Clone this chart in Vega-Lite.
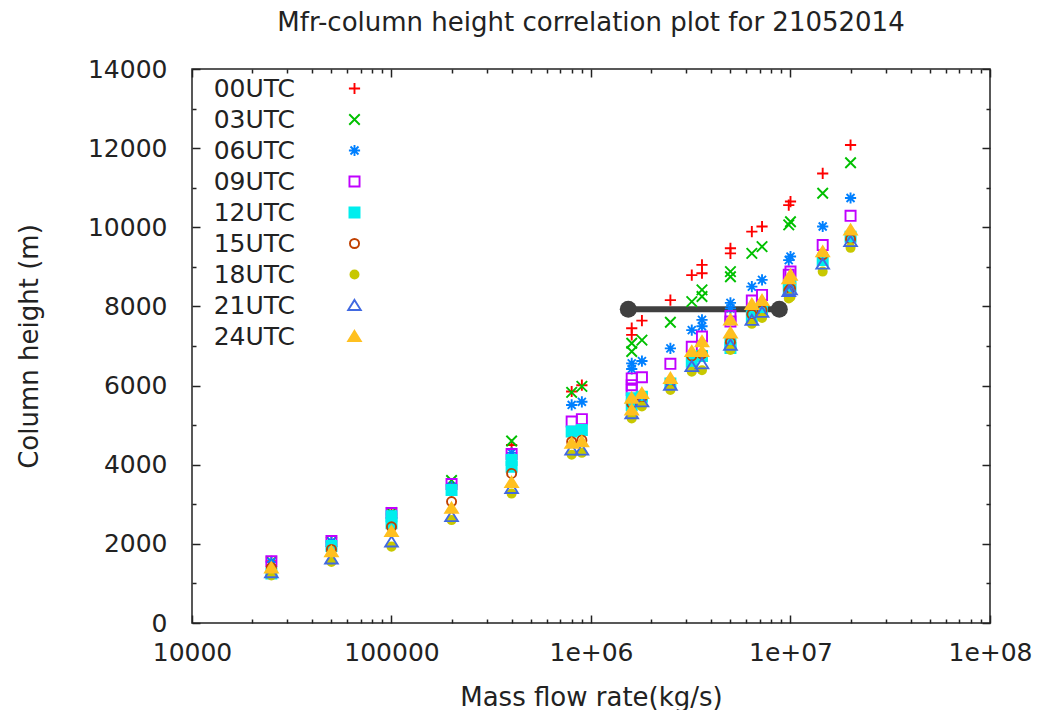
{
 "$schema": "https://vega.github.io/schema/vega-lite/v6.json",
 "width": 798, "height": 554,
 "autosize": {"type": "none"},
 "padding": {"left": 192, "top": 69, "right": 47, "bottom": 87},
 "background": "white",
 "title": {"text": "Mfr-column height correlation plot for 21052014", "fontSize": 26, "font": "DejaVu Sans", "fontWeight": "normal", "color": "#222", "offset": 21, "anchor": "middle"},
 "config": {
  "view": {"stroke": "#222", "strokeWidth": 1.5},
  "axis": {"domain": false, "grid": false, "labelFlush": false, "labelFont": "DejaVu Sans", "labelFontSize": 25, "labelColor": "#222", "titleFont": "DejaVu Sans", "titleFontSize": 26, "titleFontWeight": "normal", "titleColor": "#222", "tickColor": "#222", "tickWidth": 1.5}
 },
 "datasets": {
  "bar": [{"mfr": 1538000, "height": 7930}, {"mfr": 8790000, "height": 7930}],
  "pts": [
{"series":"00UTC","mfr":25000,"height":1560},{"series":"00UTC","mfr":50000,"height":2060},{"series":"00UTC","mfr":100000,"height":2760},{"series":"00UTC","mfr":200000,"height":3500},{"series":"00UTC","mfr":400000,"height":4500},{"series":"00UTC","mfr":800000,"height":5850},{"series":"00UTC","mfr":900000,"height":6010},{"series":"00UTC","mfr":1600000,"height":7450},{"series":"00UTC","mfr":1600000,"height":7280},{"series":"00UTC","mfr":1800000,"height":7640},{"series":"00UTC","mfr":2500000,"height":8160},{"series":"00UTC","mfr":3200000,"height":8790},{"series":"00UTC","mfr":3600000,"height":9050},{"series":"00UTC","mfr":3600000,"height":8840},{"series":"00UTC","mfr":5000000,"height":9470},{"series":"00UTC","mfr":5000000,"height":9340},{"series":"00UTC","mfr":6400000,"height":9890},{"series":"00UTC","mfr":7200000,"height":10020},{"series":"00UTC","mfr":9800000,"height":10560},{"series":"00UTC","mfr":10000000,"height":10650},{"series":"00UTC","mfr":14500000,"height":11360},{"series":"00UTC","mfr":20000000,"height":12080},
{"series":"03UTC","mfr":25000,"height":1550},{"series":"03UTC","mfr":50000,"height":2050},{"series":"03UTC","mfr":100000,"height":2790},{"series":"03UTC","mfr":200000,"height":3600},{"series":"03UTC","mfr":400000,"height":4600},{"series":"03UTC","mfr":800000,"height":5830},{"series":"03UTC","mfr":900000,"height":5980},{"series":"03UTC","mfr":1600000,"height":7070},{"series":"03UTC","mfr":1600000,"height":6860},{"series":"03UTC","mfr":1800000,"height":7150},{"series":"03UTC","mfr":2500000,"height":7600},{"series":"03UTC","mfr":3200000,"height":8120},{"series":"03UTC","mfr":3600000,"height":8420},{"series":"03UTC","mfr":3600000,"height":8250},{"series":"03UTC","mfr":5000000,"height":8880},{"series":"03UTC","mfr":5000000,"height":8750},{"series":"03UTC","mfr":6400000,"height":9340},{"series":"03UTC","mfr":7200000,"height":9510},{"series":"03UTC","mfr":9800000,"height":10060},{"series":"03UTC","mfr":10000000,"height":10140},{"series":"03UTC","mfr":14500000,"height":10860},{"series":"03UTC","mfr":20000000,"height":11630},
{"series":"06UTC","mfr":25000,"height":1540},{"series":"06UTC","mfr":50000,"height":2055},{"series":"06UTC","mfr":100000,"height":2720},{"series":"06UTC","mfr":200000,"height":3450},{"series":"06UTC","mfr":400000,"height":4300},{"series":"06UTC","mfr":800000,"height":5510},{"series":"06UTC","mfr":900000,"height":5590},{"series":"06UTC","mfr":1600000,"height":6560},{"series":"06UTC","mfr":1600000,"height":6420},{"series":"06UTC","mfr":1800000,"height":6620},{"series":"06UTC","mfr":2500000,"height":6940},{"series":"06UTC","mfr":3200000,"height":7400},{"series":"06UTC","mfr":3600000,"height":7660},{"series":"06UTC","mfr":3600000,"height":7500},{"series":"06UTC","mfr":5000000,"height":8090},{"series":"06UTC","mfr":5000000,"height":7950},{"series":"06UTC","mfr":6400000,"height":8500},{"series":"06UTC","mfr":7200000,"height":8670},{"series":"06UTC","mfr":9800000,"height":9170},{"series":"06UTC","mfr":10000000,"height":9260},{"series":"06UTC","mfr":14500000,"height":10020},{"series":"06UTC","mfr":20000000,"height":10740},
{"series":"09UTC","mfr":25000,"height":1560},{"series":"09UTC","mfr":50000,"height":2072},{"series":"09UTC","mfr":100000,"height":2780},{"series":"09UTC","mfr":200000,"height":3510},{"series":"09UTC","mfr":400000,"height":4270},{"series":"09UTC","mfr":800000,"height":5090},{"series":"09UTC","mfr":900000,"height":5150},{"series":"09UTC","mfr":1600000,"height":6180},{"series":"09UTC","mfr":1600000,"height":6010},{"series":"09UTC","mfr":1600000,"height":5890},{"series":"09UTC","mfr":1800000,"height":6210},{"series":"09UTC","mfr":2500000,"height":6550},{"series":"09UTC","mfr":3200000,"height":6980},{"series":"09UTC","mfr":3600000,"height":7240},{"series":"09UTC","mfr":5000000,"height":7760},{"series":"09UTC","mfr":5000000,"height":7620},{"series":"09UTC","mfr":6400000,"height":8150},{"series":"09UTC","mfr":7200000,"height":8290},{"series":"09UTC","mfr":9800000,"height":8800},{"series":"09UTC","mfr":10000000,"height":8880},{"series":"09UTC","mfr":14500000,"height":9550},{"series":"09UTC","mfr":20000000,"height":10290},
{"series":"12UTC","mfr":25000,"height":1250},{"series":"12UTC","mfr":50000,"height":1946},{"series":"12UTC","mfr":100000,"height":2700},{"series":"12UTC","mfr":100000,"height":2520},{"series":"12UTC","mfr":200000,"height":3360},{"series":"12UTC","mfr":400000,"height":4120},{"series":"12UTC","mfr":400000,"height":3950},{"series":"12UTC","mfr":800000,"height":4840},{"series":"12UTC","mfr":900000,"height":4880},{"series":"12UTC","mfr":1600000,"height":5680},{"series":"12UTC","mfr":1600000,"height":5500},{"series":"12UTC","mfr":1800000,"height":5720},{"series":"12UTC","mfr":2500000,"height":6050},{"series":"12UTC","mfr":3200000,"height":6600},{"series":"12UTC","mfr":3600000,"height":6750},{"series":"12UTC","mfr":5000000,"height":7080},{"series":"12UTC","mfr":5000000,"height":6950},{"series":"12UTC","mfr":6400000,"height":7750},{"series":"12UTC","mfr":7200000,"height":7950},{"series":"12UTC","mfr":9800000,"height":8450},{"series":"12UTC","mfr":10000000,"height":8520},{"series":"12UTC","mfr":14500000,"height":9170},{"series":"12UTC","mfr":20000000,"height":9760},
{"series":"15UTC","mfr":25000,"height":1400},{"series":"15UTC","mfr":50000,"height":1860},{"series":"15UTC","mfr":100000,"height":2430},{"series":"15UTC","mfr":200000,"height":3070},{"series":"15UTC","mfr":400000,"height":3780},{"series":"15UTC","mfr":800000,"height":4580},{"series":"15UTC","mfr":900000,"height":4620},{"series":"15UTC","mfr":1600000,"height":5550},{"series":"15UTC","mfr":1800000,"height":5700},{"series":"15UTC","mfr":2500000,"height":6100},{"series":"15UTC","mfr":3200000,"height":6750},{"series":"15UTC","mfr":3600000,"height":6800},{"series":"15UTC","mfr":5000000,"height":7100},{"series":"15UTC","mfr":6400000,"height":7800},{"series":"15UTC","mfr":7200000,"height":7900},{"series":"15UTC","mfr":9800000,"height":8400},{"series":"15UTC","mfr":10000000,"height":8450},{"series":"15UTC","mfr":14500000,"height":9300},{"series":"15UTC","mfr":20000000,"height":9700},
{"series":"18UTC","mfr":25000,"height":1200},{"series":"18UTC","mfr":50000,"height":1540},{"series":"18UTC","mfr":100000,"height":1930},{"series":"18UTC","mfr":200000,"height":2600},{"series":"18UTC","mfr":400000,"height":3270},{"series":"18UTC","mfr":800000,"height":4250},{"series":"18UTC","mfr":900000,"height":4300},{"series":"18UTC","mfr":1600000,"height":5170},{"series":"18UTC","mfr":1800000,"height":5470},{"series":"18UTC","mfr":2500000,"height":5890},{"series":"18UTC","mfr":3200000,"height":6350},{"series":"18UTC","mfr":3600000,"height":6390},{"series":"18UTC","mfr":5000000,"height":6900},{"series":"18UTC","mfr":6400000,"height":7560},{"series":"18UTC","mfr":7200000,"height":7710},{"series":"18UTC","mfr":9800000,"height":8200},{"series":"18UTC","mfr":10000000,"height":8240},{"series":"18UTC","mfr":14500000,"height":8880},{"series":"18UTC","mfr":20000000,"height":9480},
{"series":"21UTC","mfr":25000,"height":1270},{"series":"21UTC","mfr":50000,"height":1617},{"series":"21UTC","mfr":100000,"height":2050},{"series":"21UTC","mfr":200000,"height":2690},{"series":"21UTC","mfr":400000,"height":3400},{"series":"21UTC","mfr":800000,"height":4370},{"series":"21UTC","mfr":900000,"height":4370},{"series":"21UTC","mfr":1600000,"height":5290},{"series":"21UTC","mfr":1800000,"height":5590},{"series":"21UTC","mfr":2500000,"height":6010},{"series":"21UTC","mfr":3200000,"height":6480},{"series":"21UTC","mfr":3600000,"height":6550},{"series":"21UTC","mfr":5000000,"height":7020},{"series":"21UTC","mfr":6400000,"height":7650},{"series":"21UTC","mfr":7200000,"height":7850},{"series":"21UTC","mfr":9800000,"height":8380},{"series":"21UTC","mfr":10000000,"height":8420},{"series":"21UTC","mfr":14500000,"height":9070},{"series":"21UTC","mfr":20000000,"height":9640},
{"series":"24UTC","mfr":25000,"height":1390},{"series":"24UTC","mfr":50000,"height":1800},{"series":"24UTC","mfr":100000,"height":2310},{"series":"24UTC","mfr":200000,"height":2900},{"series":"24UTC","mfr":400000,"height":3550},{"series":"24UTC","mfr":800000,"height":4540},{"series":"24UTC","mfr":900000,"height":4580},{"series":"24UTC","mfr":1600000,"height":5680},{"series":"24UTC","mfr":1600000,"height":5380},{"series":"24UTC","mfr":1800000,"height":5800},{"series":"24UTC","mfr":2500000,"height":6180},{"series":"24UTC","mfr":3200000,"height":6860},{"series":"24UTC","mfr":3600000,"height":7110},{"series":"24UTC","mfr":3600000,"height":6860},{"series":"24UTC","mfr":5000000,"height":7660},{"series":"24UTC","mfr":5000000,"height":7330},{"series":"24UTC","mfr":6400000,"height":8050},{"series":"24UTC","mfr":7200000,"height":8150},{"series":"24UTC","mfr":9800000,"height":8700},{"series":"24UTC","mfr":10000000,"height":8790},{"series":"24UTC","mfr":14500000,"height":9380},{"series":"24UTC","mfr":20000000,"height":9930}
  ]
 },
 "layer": [
  {
   "data": {"name": "bar"},
   "mark": {"type": "line", "color": "#404040", "strokeWidth": 6, "point": {"filled": true, "size": 289, "color": "#404040", "opacity": 1}},
   "encoding": {
    "x": {"field": "mfr", "type": "quantitative", "scale": {"type": "log", "domain": [10000, 100000000], "nice": false}, "axis": {"orient": "top", "offset": -8, "tickSize": 8, "labels": false, "title": null, "values": [10000, 100000, 1000000, 10000000, 100000000]}},
    "y": {"field": "height", "type": "quantitative", "scale": {"domain": [0, 14000], "nice": false}, "axis": {"orient": "right", "offset": -8, "tickSize": 8, "labels": false, "title": null, "values": [0, 2000, 4000, 6000, 8000, 10000, 12000, 14000]}}
   }
  },
  {
   "data": {"name": "bar"},
   "mark": {"type": "point", "opacity": 0},
   "encoding": {
    "x": {"field": "mfr", "type": "quantitative", "scale": {"type": "log", "domain": [10000, 100000000], "nice": false}, "axis": {"orient": "bottom", "offset": -4, "tickSize": 4, "labels": false, "title": null, "values": [20000,30000,40000,50000,60000,70000,80000,90000,200000,300000,400000,500000,600000,700000,800000,900000,2000000,3000000,4000000,5000000,6000000,7000000,8000000,9000000,20000000,30000000,40000000,50000000,60000000,70000000,80000000,90000000]}},
    "y": {"field": "height", "type": "quantitative", "scale": {"domain": [0, 14000], "nice": false}, "axis": {"orient": "left", "offset": -4, "tickSize": 4, "labels": false, "title": null, "values": [1000,3000,5000,7000,9000,11000,13000]}}
   }
  },
  {
   "data": {"name": "bar"},
   "mark": {"type": "point", "opacity": 0},
   "encoding": {
    "x": {"field": "mfr", "type": "quantitative", "scale": {"type": "log", "domain": [10000, 100000000], "nice": false}, "axis": {"orient": "top", "offset": -4, "tickSize": 4, "labels": false, "title": null, "values": [20000,30000,40000,50000,60000,70000,80000,90000,200000,300000,400000,500000,600000,700000,800000,900000,2000000,3000000,4000000,5000000,6000000,7000000,8000000,9000000,20000000,30000000,40000000,50000000,60000000,70000000,80000000,90000000]}},
    "y": {"field": "height", "type": "quantitative", "scale": {"domain": [0, 14000], "nice": false}, "axis": {"orient": "right", "offset": -4, "tickSize": 4, "labels": false, "title": null, "values": [1000,3000,5000,7000,9000,11000,13000]}}
   }
  },
  {
   "data": {"name": "pts"},
   "mark": {"type": "point", "strokeWidth": 1.9, "size": 196, "opacity": 1},
   "encoding": {
    "x": {"field": "mfr", "type": "quantitative", "scale": {"type": "log", "domain": [10000, 100000000], "nice": false}, "axis": {"orient": "bottom", "offset": -8, "tickSize": 8, "labelPadding": 17, "title": "Mass flow rate(kg/s)", "titlePadding": 19, "values": [10000, 100000, 1000000, 10000000, 100000000], "labelExpr": "datum.value < 1000000 ? format(datum.value, 'd') : '1e+0' + format(log(datum.value)/LN10, '.0f')"}},
    "y": {"field": "height", "type": "quantitative", "scale": {"domain": [0, 14000], "nice": false}, "axis": {"orient": "left", "offset": -8, "tickSize": 8, "labelPadding": 25, "title": "Column height (m)", "titlePadding": 45, "values": [0, 2000, 4000, 6000, 8000, 10000, 12000, 14000], "format": "d"}},
    "shape": {"field": "series", "type": "nominal", "scale": {"domain": ["00UTC","03UTC","06UTC","09UTC","12UTC","15UTC","18UTC","21UTC","24UTC"], "range": ["M-0.8,0H0.8M0,-0.8V0.8", "M-0.75,-0.75L0.75,0.75M-0.75,0.75L0.75,-0.75", "M-0.8,0H0.8M0,-0.8V0.8M-0.57,-0.57L0.57,0.57M-0.57,0.57L0.57,-0.57", "M-0.72,-0.72H0.72V0.72H-0.72Z", "M-0.72,-0.72H0.72V0.72H-0.72Z", "M0.65,0A0.65,0.65 0 1,1 -0.65,0A0.65,0.65 0 1,1 0.65,0Z", "M0.58,0A0.58,0.58 0 1,1 -0.58,0A0.58,0.58 0 1,1 0.58,0Z", "M0,-0.8L0.9,0.65L-0.9,0.65Z", "M0,-0.8L0.9,0.65L-0.9,0.65Z"]},
      "legend": {"title": null, "orient": "none", "legendX": 150, "legendY": 7, "labelFont": "DejaVu Sans", "labelFontSize": 25, "labelColor": "#222", "labelAlign": "right", "labelOffset": -72, "symbolSize": 196, "symbolStrokeWidth": 1.9, "rowPadding": 5, "padding": 0}},
    "stroke": {"field": "series", "type": "nominal", "scale": {"domain": ["00UTC","03UTC","06UTC","09UTC","12UTC","15UTC","18UTC","21UTC","24UTC"], "range": ["#ff0000", "#00c000", "#0080ff", "#c000ff", "#00eeee", "#c04000", "#c8c800", "#4169e1", "#ffc020"]},
      "legend": {"title": null, "orient": "none", "legendX": 150, "legendY": 7, "labelFont": "DejaVu Sans", "labelFontSize": 25, "labelColor": "#222", "labelAlign": "right", "labelOffset": -72, "symbolSize": 196, "symbolStrokeWidth": 1.9, "rowPadding": 5, "padding": 0}},
    "fill": {"field": "series", "type": "nominal", "scale": {"domain": ["00UTC","03UTC","06UTC","09UTC","12UTC","15UTC","18UTC","21UTC","24UTC"], "range": ["transparent", "transparent", "transparent", "transparent", "#00eeee", "transparent", "#c8c800", "transparent", "#ffc020"]},
      "legend": {"title": null, "orient": "none", "legendX": 150, "legendY": 7, "labelFont": "DejaVu Sans", "labelFontSize": 25, "labelColor": "#222", "labelAlign": "right", "labelOffset": -72, "symbolSize": 196, "symbolStrokeWidth": 1.9, "rowPadding": 5, "padding": 0}}
   }
  }
 ],
 "resolve": {"axis": {"x": "independent", "y": "independent"}}
}
